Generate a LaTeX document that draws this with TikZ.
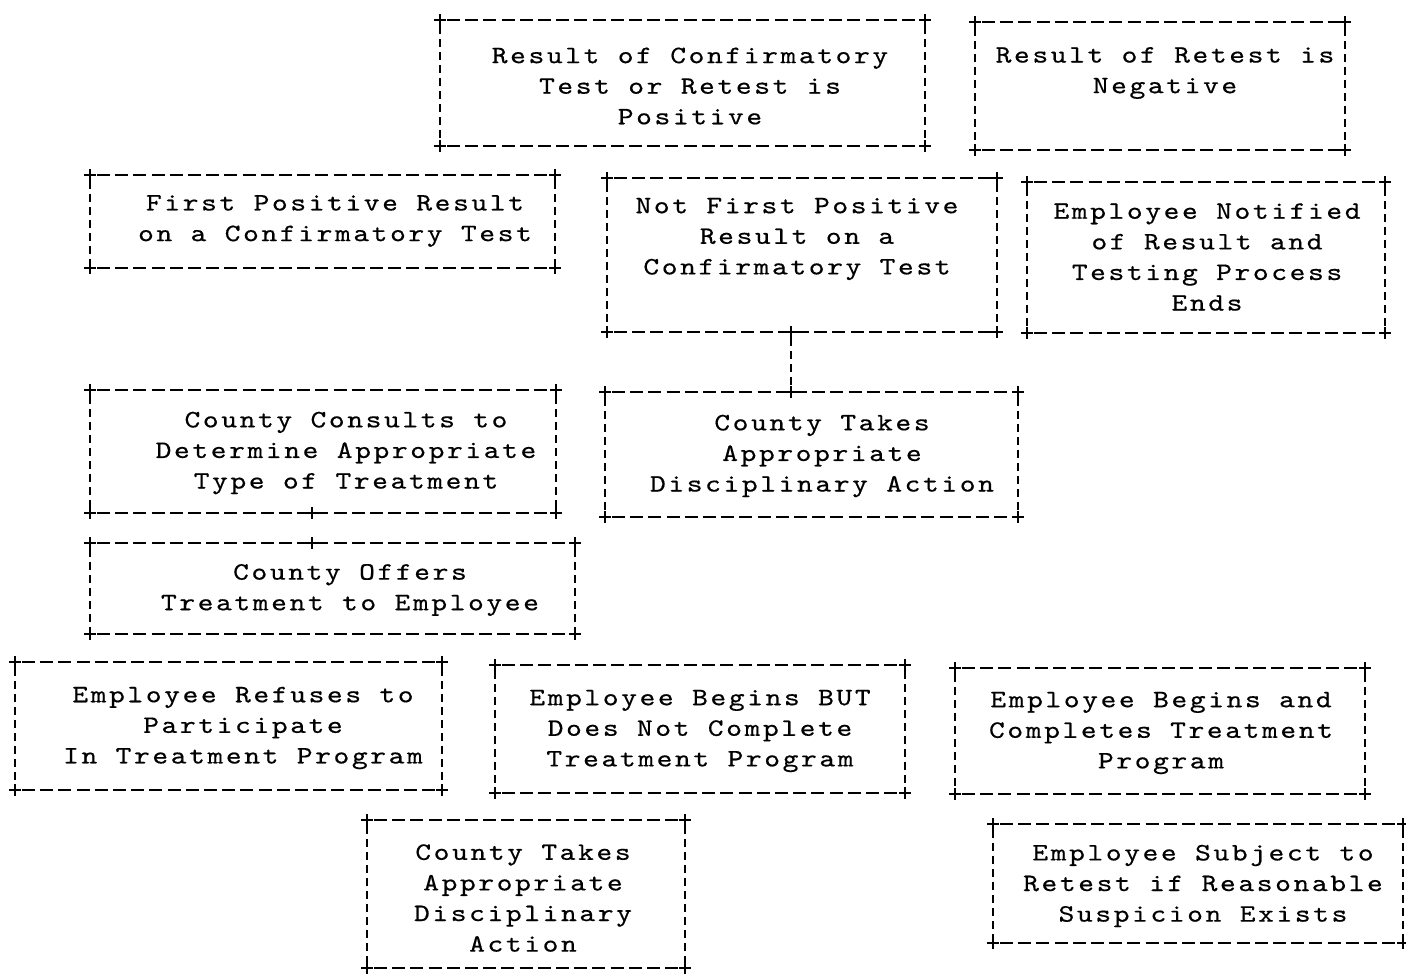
\documentclass[tikz,border=0pt]{standalone}
\usepackage{fontspec}
\newfontfamily\mono{lmmono10-regular}[Extension=.otf,FakeStretch=1.2,LetterSpace=10.5,FakeBold=0.5]
\tikzset{
  boxnode/.style={inner sep=0pt, outer sep=0pt},
  txt/.style={font=\mono\fontsize{12.5}{15.3}\selectfont, align=center, inner sep=0pt},
  hline/.style={line width=1pt, dash pattern=on 6.5pt off 2.6pt, dash phase=-3.5pt},
  vline/.style={line width=0.95pt, dash pattern=on 4pt off 2.5pt, dash phase=-3pt},
  plusmark/.pic={\draw[line width=1.1pt] (-6,0) -- (6,0) (0,-6) -- (0,6);}
}
% name, x1, y1, x2, y2, text x, text y, text
\newcommand\abox[8]{%
  \node[boxnode, minimum width={(#4-#2)*0.5pt}, minimum height={(#5-#3)*0.5pt}] (#1) at ({(#2+#4)/2},{(#3+#5)/2}) {};
  \node[txt] (#1t) at (#6,#7) {#8};
  \draw[hline] (#1.north west) -- (#1.north east);
  \draw[hline] (#1.south west) -- (#1.south east);
  \draw[vline] (#1.north west) -- (#1.south west);
  \draw[vline] (#1.north east) -- (#1.south east);
  \foreach \c in {north west,north east,south west,south east} {\pic at (#1.\c) {plusmark};}
}
\begin{document}
\begin{tikzpicture}[x=0.5pt,y=-0.5pt]
\useasboundingbox (0,0) rectangle (1406,976);
\abox{A}{440}{20}{925}{146}{690}{86}{Result of Confirmatory\\Test or Retest is\\Positive}
\abox{B}{975}{22}{1345}{150}{1165}{73}{Result of Retest is\\Negative}
\abox{C}{90}{175}{555}{268}{335}{221}{First Positive Result\\on a Confirmatory Test}
\abox{D}{607}{178}{997}{332}{797}{239}{Not First Positive\\Result on a\\Confirmatory Test}
\abox{F}{1027}{182}{1385}{333}{1207}{257}{Employee Notified\\of Result and\\Testing Process\\Ends}
\abox{E}{605}{392}{1018}{517}{822}{456}{County Takes\\Appropriate\\Disciplinary Action}
\abox{G}{90}{390}{556}{513}{346}{453}{County Consults to\\Determine Appropriate\\Type of Treatment}
\abox{H}{90}{543}{575}{634}{350}{590}{County Offers\\Treatment to Employee}
\abox{I}{15}{662}{442}{790}{243}{728}{Employee Refuses to\\Participate\\In Treatment Program}
\abox{J}{495}{665}{905}{793}{700}{731}{Employee Begins BUT\\Does Not Complete\\Treatment Program}
\abox{K}{955}{668}{1365}{794}{1161}{733}{Employee Begins and\\Completes Treatment\\Program}
\abox{L}{367}{820}{685}{968}{523}{898}{County Takes\\Appropriate\\Disciplinary\\Action}
\abox{M}{993}{824}{1403}{943}{1203}{886}{Employee Subject to\\Retest if Reasonable\\Suspicion Exists}
% junctions
\coordinate (dj) at (D.south -| 791,0);
\coordinate (ej) at (E.north -| 791,0);
\draw[vline] (dj) -- (ej);
\pic at (dj) {plusmark};
\pic at (ej) {plusmark};
\coordinate (gj) at (G.south -| 312,0);
\coordinate (hj) at (H.north -| 312,0);
\pic at (gj) {plusmark};
\pic at (hj) {plusmark};
\end{tikzpicture}
\end{document}
